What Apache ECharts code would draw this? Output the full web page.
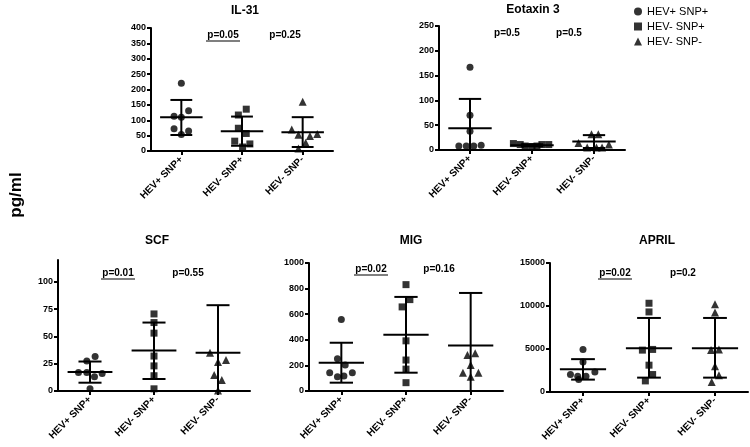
<!DOCTYPE html>
<html><head><meta charset="utf-8">
<script src="https://cdn.jsdelivr.net/npm/echarts@6/dist/echarts.min.js"></script>
<style>html,body{margin:0;padding:0;background:#fff}#c{width:750px;height:447px}</style>
</head><body><div id="c"></div>
<script>
const categories = ['HEV+ SNP+', 'HEV- SNP+', 'HEV- SNP-'];
const groupSymbols = ['circle', 'rect', 'triangle'];

// IL-31
const il31Values = [[220,131,113,110,72,65,54],[136,117,74,57,32,13,23],[160,70,53,49,55,27,8]];
const il31Jitter = [[0,0.12,-0.12,0,-0.12,0.12,0],[0.07,-0.06,-0.06,0.07,-0.12,0.01,0.13],[0,-0.18,-0.07,0.12,0.24,0.05,-0.07]];
const il31Mean = [110,64,61];
const il31Low = [52,17,13];
const il31High = [166,112,110];
const il31Ticks = [0,50,100,150,200,250,300,350,400];
const il31P = ['p=0.05','p=0.25'];

// Eotaxin 3
const eotValues = [[167,70,38,8,8,8,9.5],[13,11,8,7,8,11,11],[32,32,14,11,5,5,5]];
const eotJitter = [[0,0,0,-0.18,-0.06,0.06,0.18],[-0.3,-0.19,-0.11,0,0.08,0.16,0.27],[0.07,-0.04,-0.25,0.24,-0.11,0.04,0.13]];
const eotMean = [44,9.5,17];
const eotLow = [-15,7.5,4];
const eotHigh = [103,11.5,30];
const eotTicks = [0,50,100,150,200,250];
const eotP = ['p=0.5','p=0.5'];

// SCF
const scfValues = [[31.5,27.5,17,17,16,13,2],[70.6,62.7,53,32,23,14,2],[35,26.6,28.4,14.7,10,0.5]];
const scfJitter = [[0.08,-0.05,-0.18,-0.05,0.19,0.07,0],[0,0,0,0,0,0,0],[-0.125,0,0.125,-0.06,0.06,0]];
const scfMean = [17.4,37,35];
const scfLow = [7.6,11,-8];
const scfHigh = [27,62.7,78.6];
const scfTicks = [0,25,50,75,100];
const scfP = ['p=0.01','p=0.55'];

// MIG
const migValues = [[558,252,203,143,143,112,117],[831,714,657,392,242,171,65],[281,294,203,143,143,112]];
const migJitter = [[0,-0.06,0.06,-0.18,0.17,-0.06,0.04],[0,0.06,-0.06,0,0,0,0],[-0.05,0.07,0,-0.12,0.12,0]];
const migMean = [221,439,355];
const migLow = [65,143,-64];
const migHigh = [377,735,766];
const migTicks = [0,200,400,600,800,1000];
const migP = ['p=0.02','p=0.16'];

// APRIL
const aprilValues = [[4950,3500,2340,2030,1830,1830,1440],[10320,9310,4870,4950,3120,2030,1290],[10200,9230,4870,4950,3000,1950,1170]];
const aprilJitter = [[0,0,0.18,-0.19,-0.08,0.045,-0.065],[0,0,-0.1,0.055,0,0.055,-0.055],[0,0,-0.06,0.06,0,0.06,-0.05]];
const aprilMean = [2650,5100,5100];
const aprilLow = [1440,1670,1670];
const aprilHigh = [3820,8610,8610];
const aprilTicks = [0,5000,10000,15000];
const aprilP = ['p=0.02','p=0.2'];

const panels = [
  {title:'IL-31', values:il31Values, jitter:il31Jitter, mean:il31Mean, low:il31Low, high:il31High, ticks:il31Ticks, yMax:400, p:il31P, underline:[true,false],
   grid:{left:151,top:28,width:182,height:123}, titlePos:[245,11], pPos:[[223,35],[285,35]]},
  {title:'Eotaxin 3', values:eotValues, jitter:eotJitter, mean:eotMean, low:eotLow, high:eotHigh, ticks:eotTicks, yMax:250, p:eotP, underline:[false,false],
   grid:{left:439,top:26,width:186,height:124}, titlePos:[533,10], pPos:[[507,33],[569,33]]},
  {title:'SCF', values:scfValues, jitter:scfJitter, mean:scfMean, low:scfLow, high:scfHigh, ticks:scfTicks, yMax:120, p:scfP, underline:[true,false],
   grid:{left:58,top:260,width:192,height:131}, titlePos:[157,241], pPos:[[118,273],[188,273]]},
  {title:'MIG', values:migValues, jitter:migJitter, mean:migMean, low:migLow, high:migHigh, ticks:migTicks, yMax:1000, p:migP, underline:[true,false],
   grid:{left:309,top:263,width:194,height:128}, titlePos:[411,241], pPos:[[371,269],[439,269]]},
  {title:'APRIL', values:aprilValues, jitter:aprilJitter, mean:aprilMean, low:aprilLow, high:aprilHigh, ticks:aprilTicks, yMax:15000, p:aprilP, underline:[true,false],
   grid:{left:550,top:263,width:198,height:129}, titlePos:[657,241], pPos:[[615,273],[683,273]]}
];

const FONT = 'Liberation Sans, Arial, sans-serif';
const grids = [], xAxes = [], yAxes = [], series = [], graphics = [];
const catPos = [0.5, 1.5, 2.5];

function errRender(params, api) {
  const x = api.value(0), m = api.value(1), lo = api.value(2), hi = api.value(3);
  const w = api.size([1, 0])[0];
  const pm = api.coord([x, m]);
  const pl = api.coord([x, Math.max(lo, 0)]);
  const ph = api.coord([x, hi]);
  const st = {stroke: '#000', lineWidth: 2};
  const ch = [
    {type:'line', shape:{x1:pl[0], y1:pl[1], x2:ph[0], y2:ph[1]}, style:st},
    {type:'line', shape:{x1:pm[0]-0.35*w, y1:pm[1], x2:pm[0]+0.35*w, y2:pm[1]}, style:st},
    {type:'line', shape:{x1:ph[0]-0.18*w, y1:ph[1], x2:ph[0]+0.18*w, y2:ph[1]}, style:st}
  ];
  if (lo >= 0) ch.push({type:'line', shape:{x1:pl[0]-0.18*w, y1:pl[1], x2:pl[0]+0.18*w, y2:pl[1]}, style:st});
  return {type:'group', children: ch};
}

panels.forEach((p, i) => {
  grids.push(Object.assign({containLabel:false}, p.grid));
  xAxes.push({
    type:'value', gridIndex:i, min:0, max:3,
    axisLine:{show:true, lineStyle:{color:'#000', width:2}},
    axisTick:{show:true, customValues:catPos, length:4, lineStyle:{color:'#000', width:2}},
    axisLabel:{show:true, customValues:catPos, rotate:45, margin:7, color:'#000', fontSize:10, fontWeight:'bold', fontFamily:FONT,
      formatter: v => categories[Math.floor(v)]},
    splitLine:{show:false}
  });
  yAxes.push({
    type:'value', gridIndex:i, min:0, max:p.yMax,
    axisLine:{show:true, lineStyle:{color:'#000', width:2}},
    axisTick:{show:true, customValues:p.ticks, length:4, lineStyle:{color:'#000', width:2}},
    axisLabel:{show:true, customValues:p.ticks, margin:5, color:'#000', fontSize:9, fontWeight:'bold', fontFamily:FONT,
      formatter: v => String(v)},
    splitLine:{show:false}
  });
  categories.forEach((cat, g) => {
    series.push({
      type:'scatter', name:cat, xAxisIndex:i, yAxisIndex:i,
      symbol:groupSymbols[g], symbolSize: g === 2 ? 8 : 7,
      itemStyle:{color:'#000'},
      data: p.values[g].map((v, k) => [catPos[g] + p.jitter[g][k], v]),
      silent:true
    });
  });
  series.push({
    type:'custom', xAxisIndex:i, yAxisIndex:i, renderItem:errRender, silent:true,
    data: categories.map((c, g) => [catPos[g], p.mean[g], p.low[g], p.high[g]]),
    z: 3
  });
  graphics.push({type:'text', x:p.titlePos[0], y:p.titlePos[1],
    style:{text:p.title, font:'bold 12px ' + FONT, fill:'#000', textAlign:'center', textVerticalAlign:'middle'}});
  p.p.forEach((t, j) => {
    graphics.push({type:'text', x:p.pPos[j][0], y:p.pPos[j][1],
      style:{text:t, font:'bold 10px ' + FONT, fill:'#000', textAlign:'center', textVerticalAlign:'middle'}});
    if (p.underline[j]) {
      graphics.push({type:'line', shape:{x1:p.pPos[j][0]-17, y1:p.pPos[j][1]+6, x2:p.pPos[j][0]+17, y2:p.pPos[j][1]+6},
        style:{stroke:'#000', lineWidth:1.2}});
    }
  });
});

graphics.push({type:'text', x:16, y:195, rotation:Math.PI/2,
  style:{text:'pg/ml', font:'bold 17px ' + FONT, fill:'#000', textAlign:'center', textVerticalAlign:'middle'}});

const chart = echarts.init(document.getElementById('c'), null, {renderer:'canvas'});
chart.setOption({
  animation:false,
  backgroundColor:'#fff',
  grid:grids, xAxis:xAxes, yAxis:yAxes, series:series,
  legend:{
    orient:'vertical', left:629, top:1, itemGap:4, itemWidth:8, itemHeight:8, selectedMode:false,
    textStyle:{fontSize:11, color:'#000', fontFamily:FONT},
    data: categories.map((c, g) => ({name:c, icon: groupSymbols[g]}))
  },
  graphic:graphics
});
</script></body></html>
